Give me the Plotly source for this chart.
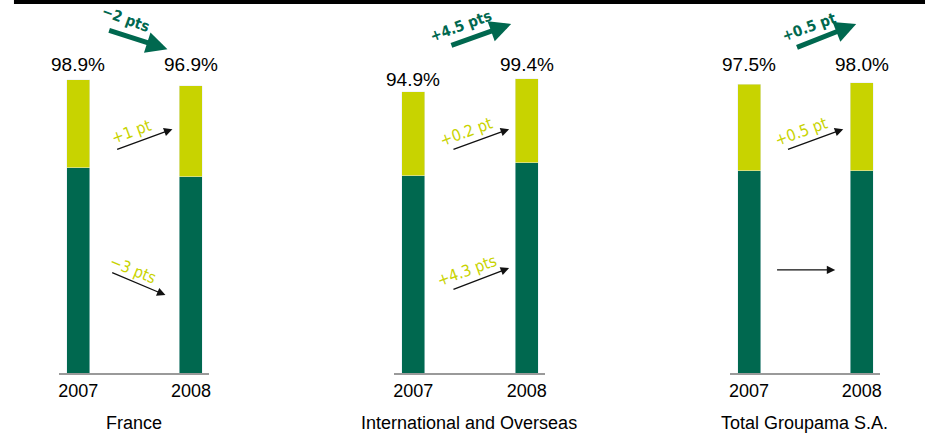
import plotly.graph_objects as go

# ---------------- data ----------------
years = ["2007", "2008"]
panels = ["France", "International and Overseas", "Total Groupama S.A."]
bottom_vals = [[69.2, 66.2], [66.6, 70.9], [68.3, 68.3]]   # dark green segment
top_vals = [[29.7, 30.7], [28.3, 28.5], [29.2, 29.7]]      # yellow-green segment
totals = [[98.9, 96.9], [94.9, 99.4], [97.5, 98.0]]
total_change = ["\u22122 pts", "+4.5 pts", "+0.5 pt"]
top_change = ["+1 pt", "+0.2 pt", "+0.5 pt"]
bottom_change = ["\u22123 pts", "+4.3 pts", ""]

# ---------------- style ----------------
DARK = "#00684F"
LIGHT = "#C8D300"
W, H = 931, 435
FONT = "Liberation Sans, Arial, sans-serif"
NARROW = "DejaVu Sans Condensed, Liberation Sans Narrow, Arial Narrow, sans-serif"

# pixel layout of each panel's baseline segment
dom_px = [(58, 209), (394, 546), (731, 882)]
XR = [-0.1726, 1.1637]
YMAX = 125.9

fig = go.Figure()
annos = []

for i in range(3):
    xa = "x" if i == 0 else f"x{i+1}"
    ya = "y" if i == 0 else f"y{i+1}"
    fig.add_trace(go.Bar(x=[0, 1], y=bottom_vals[i], marker_color=DARK, width=0.2035,
                         xaxis=xa, yaxis=ya, hoverinfo="skip", showlegend=False))
    fig.add_trace(go.Bar(x=[0, 1], y=top_vals[i], marker_color=LIGHT, width=0.2035,
                         xaxis=xa, yaxis=ya, hoverinfo="skip", showlegend=False))
    d0, d1 = dom_px[i]
    axkey = "xaxis" if i == 0 else f"xaxis{i+1}"
    aykey = "yaxis" if i == 0 else f"yaxis{i+1}"
    fig.update_layout(**{
        axkey: dict(domain=[d0 / W, d1 / W], range=XR, tickvals=[0, 1], ticktext=years,
                    showgrid=False, zeroline=False, showline=True, linecolor="#9a9a9a",
                    linewidth=2, ticks="", anchor=ya,
                    tickfont=dict(family=FONT, size=18, color="#000")),
        aykey: dict(domain=[62 / H, 1], range=[0, YMAX], visible=False, anchor=xa),
    })

    # side value labels
    lx_left = -0.18
    lx_right = 1.21 if i == 0 else 1.17
    for yv, txt, anchor, xx in [(78.0, top_vals[i][0], "right", lx_left),
                                (37.1, bottom_vals[i][0], "right", lx_left),
                                (78.0, top_vals[i][1], "left", lx_right),
                                (37.1, bottom_vals[i][1], "left", lx_right)]:
        annos.append(dict(x=xx, y=yv, xref=xa, yref=ya, text=f"{txt:.1f}%", showarrow=False,
                          xanchor=anchor, yanchor="middle",
                          font=dict(family=FONT, size=16, color="#333")))

    # totals above bars
    for j in range(2):
        ty = 104.0 if totals[i][j] > 96 else 98.9
        annos.append(dict(x=j, y=ty, xref=xa, yref=ya, text=f"{totals[i][j]:.1f}%",
                          showarrow=False, xanchor="center", yanchor="middle",
                          font=dict(family=FONT, size=19, color="#000")))

    # panel title
    annos.append(dict(x=(d0 + d1) / 2 / W, y=0, xref="paper", yref="paper",
                      text=panels[i], showarrow=False, xanchor="center", yanchor="bottom",
                      font=dict(family=FONT, size=18, color="#000")))

# --- small arrows (black) ---
small_arrows = [
    # panel, tail(x,y), tip(x,y)
    (0, (0.332, 75.3), (0.836, 82.3)),
    (0, (0.288, 34.1), (0.774, 26.3)),
    (1, (0.341, 75.3), (0.845, 82.3)),
    (1, (0.341, 28.0), (0.845, 35.4)),
    (2, (0.332, 75.3), (0.836, 82.3)),
    (2, (0.235, 34.8), (0.765, 34.8)),
]
for p, tail, tip in small_arrows:
    xa = "x" if p == 0 else f"x{p+1}"
    ya = "y" if p == 0 else f"y{p+1}"
    annos.append(dict(x=tip[0], y=tip[1], ax=tail[0], ay=tail[1], xref=xa, yref=ya,
                      axref=xa, ayref=ya, text="", showarrow=True, arrowhead=2,
                      arrowsize=1.3, arrowwidth=1.3, arrowcolor="#111", standoff=0))

# small change texts
small_texts = [
    (0, top_change[0], 0.473, 81.5, -20),
    (0, bottom_change[0], 0.482, 35.0, 22),
    (1, top_change[1], 0.473, 81.5, -20),
    (1, bottom_change[1], 0.473, 34.6, -20),
    (2, top_change[2], 0.465, 81.5, -20),
]
for p, txt, x, y, ang in small_texts:
    xa = "x" if p == 0 else f"x{p+1}"
    ya = "y" if p == 0 else f"y{p+1}"
    annos.append(dict(x=x, y=y, xref=xa, yref=ya, text=txt, showarrow=False, textangle=ang,
                      xanchor="center", yanchor="middle",
                      font=dict(family=NARROW, size=16, color=LIGHT)))

# --- big green arrows ---
big_arrows = [
    (0, (0.261, 115.8), (0.792, 109.3), 0.42, 119.6, 20),
    (1, (0.323, 110.4), (0.863, 117.8), 0.42, 117.0, -20),
    (2, (0.412, 109.7), (0.951, 117.8), 0.535, 116.8, -20),
]
for p, tail, tip, tx, ty, ang in big_arrows:
    xa = "x" if p == 0 else f"x{p+1}"
    ya = "y" if p == 0 else f"y{p+1}"
    annos.append(dict(x=tip[0], y=tip[1], ax=tail[0], ay=tail[1], xref=xa, yref=ya,
                      axref=xa, ayref=ya, text="", showarrow=True, arrowhead=2,
                      arrowsize=0.85, arrowwidth=5, arrowcolor=DARK, standoff=0))
    annos.append(dict(x=tx, y=ty, xref=xa, yref=ya, text=f"<b>{total_change[p]}</b>",
                      showarrow=False, textangle=ang, xanchor="center", yanchor="middle",
                      font=dict(family=NARROW, size=15, color=DARK)))

fig.update_layout(
    width=W, height=H, margin=dict(l=0, r=0, t=0, b=0),
    paper_bgcolor="white", plot_bgcolor="white",
    barmode="stack", annotations=annos,
    shapes=[dict(type="rect", xref="paper", yref="paper", x0=13 / W, x1=927 / W,
                 y0=(H - 4) / H, y1=1, fillcolor="#000", line=dict(width=0))],
)

fig.write_html("out.html")
